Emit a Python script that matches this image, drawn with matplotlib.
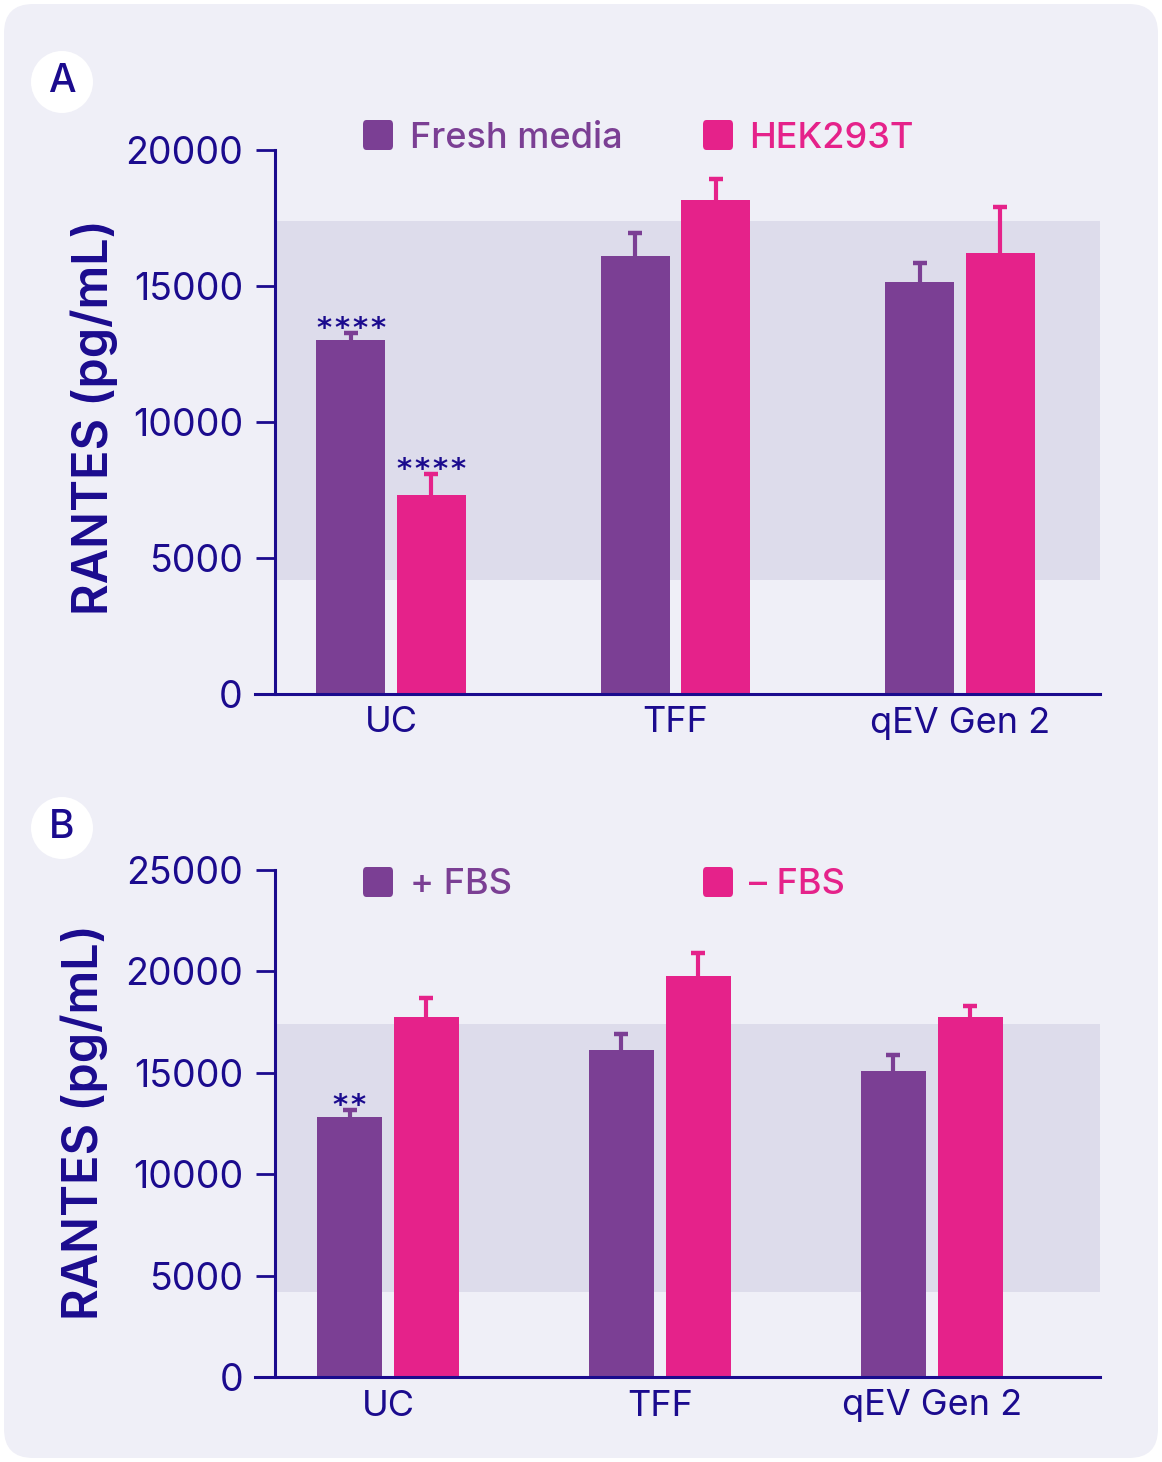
import numpy as np
import matplotlib.pyplot as plt
import matplotlib.transforms as mtransforms
from matplotlib.patches import FancyBboxPatch, Circle

plt.rcParams['font.family'] = ['Inter', 'DejaVu Sans']

# datos
groups = ['UC', 'TFF', 'qEV Gen 2']

a_series = ['Fresh media', 'HEK293T']
a_vals = [[13000, 16100, 15150], [7300, 18150, 16200]]
a_errs = [[270, 850, 700], [800, 780, 1700]]
a_stars = [[4, 0, 0], [4, 0, 0]]

b_series = ['+ FBS', '\u2013 FBS']
b_vals = [[12800, 16100, 15100], [17750, 19750, 17750]]
b_errs = [[350, 800, 800], [950, 1150, 550]]
b_stars = [[2, 0, 0], [0, 0, 0]]

band = (4200, 17400)

navy = '#1B0B8E'
purple = '#7B3F94'
pink = '#E5228A'
colors = [purple, pink]

W, H = 1162, 1462
fig = plt.figure(figsize=(W / 100, H / 100), dpi=100)
fig.patch.set_facecolor('white')

# fondo redondeado
bg = FancyBboxPatch((4 / W, 4 / H), (W - 8) / W, (H - 8) / H,
                    boxstyle='round,pad=0,rounding_size=0.025',
                    transform=fig.transFigure, facecolor='#EFEFF7',
                    edgecolor='none', mutation_aspect=W / H, zorder=-10)
fig.patches.append(bg)


def panel(rect, vals, errs, stars, series, ymax, ystep, xl, spine_x, width, off,
          letter, circ_y, leg_y, lab_x, lab_y):
    ax = fig.add_axes(rect)
    ax.set_facecolor('none')
    x = np.arange(len(groups))
    ax.set_xlim(*xl)
    ax.set_ylim(0, ymax)
    frac = (spine_x - xl[0]) / (xl[1] - xl[0])
    ax.axhspan(band[0], band[1], xmin=frac, xmax=1, color='#DDDCEB', lw=0, zorder=0)
    for i in range(2):
        pos = x + (2 * i - 1) * off
        tops = np.array(vals[i]) + np.array(errs[i])
        ax.vlines(pos, vals[i], tops, color=colors[i], lw=3, zorder=1)
        ax.plot(pos, tops, ls='none', marker='_', ms=10, mew=3.2, color=colors[i], zorder=1)
        ax.bar(pos, vals[i], width=width, color=colors[i], zorder=2)
        for j in range(3):
            n = stars[i][j]
            for k in range(n):
                dx = (k - (n - 1) / 2) * 18 * 0.72  # pixeles -> puntos
                tr = mtransforms.offset_copy(ax.transData, fig=fig, x=dx, y=-4 * 0.72,
                                             units='points')
                ax.text(pos[j], tops[j], '*', transform=tr, ha='center', va='baseline',
                        color=navy, fontsize=21, fontweight='bold', family='DejaVu Sans')
    for s in ['top', 'right']:
        ax.spines[s].set_visible(False)
    ax.spines['left'].set_position(('data', spine_x))
    ax.spines['left'].set_bounds(0, ymax)
    for s in ['left', 'bottom']:
        ax.spines[s].set_color(navy)
        ax.spines[s].set_linewidth(2.2)
    ax.set_yticks(np.arange(0, ymax + 1, ystep))
    ax.tick_params(axis='y', direction='out', length=14, width=2, color=navy,
                   labelcolor=navy, labelsize=27, pad=9)
    ax.set_xticks(x)
    ax.set_xticklabels(groups)
    ax.tick_params(axis='x', length=0, labelcolor=navy, labelsize=26, pad=9)
    ax.set_ylabel('RANTES (pg/mL)', color=navy, fontsize=35, fontweight='semibold')
    ax.yaxis.set_label_coords(lab_x / W, 1 - lab_y / H, transform=fig.transFigure)

    # leyenda a mano
    for i, (lx, tx) in enumerate([(363, 410), (703, 749)]):
        fig.patches.append(FancyBboxPatch((lx / W, 1 - (leg_y + 15) / H), 30 / W, 30 / H,
                                          boxstyle='round,pad=0,rounding_size=0.003',
                                          transform=fig.transFigure, facecolor=colors[i],
                                          edgecolor='none'))
        fig.text(tx / W, 1 - (leg_y + 3) / H, series[i], color=colors[i], fontsize=26,
                 fontweight='medium', va='center', ha='left')

    # letra del panel
    c = Circle((62 / 100, (H - circ_y) / 100), 31 / 100, transform=fig.dpi_scale_trans,
               facecolor='white', edgecolor='none')
    fig.patches.append(c)
    fig.text(62 / W, 1 - circ_y / H, letter, color=navy, fontsize=28, fontweight='medium',
             ha='center', va='center')
    return ax


panel([255 / W, 1 - 694 / H, 845 / W, 544 / H], a_vals, a_errs, a_stars, a_series,
      20000, 5000, (-0.478, 2.492), -0.408, 0.243, 0.142, 'A', 82, 135, 118, 417)
panel([255 / W, 1 - 1377 / H, 845 / W, 507 / H], b_vals, b_errs, b_stars, b_series,
      25000, 5000, (-0.489, 2.618), -0.415, 0.239, 0.1415, 'B', 828, 882, 108, 1122)

plt.savefig('out.png', dpi=100, facecolor='white')
